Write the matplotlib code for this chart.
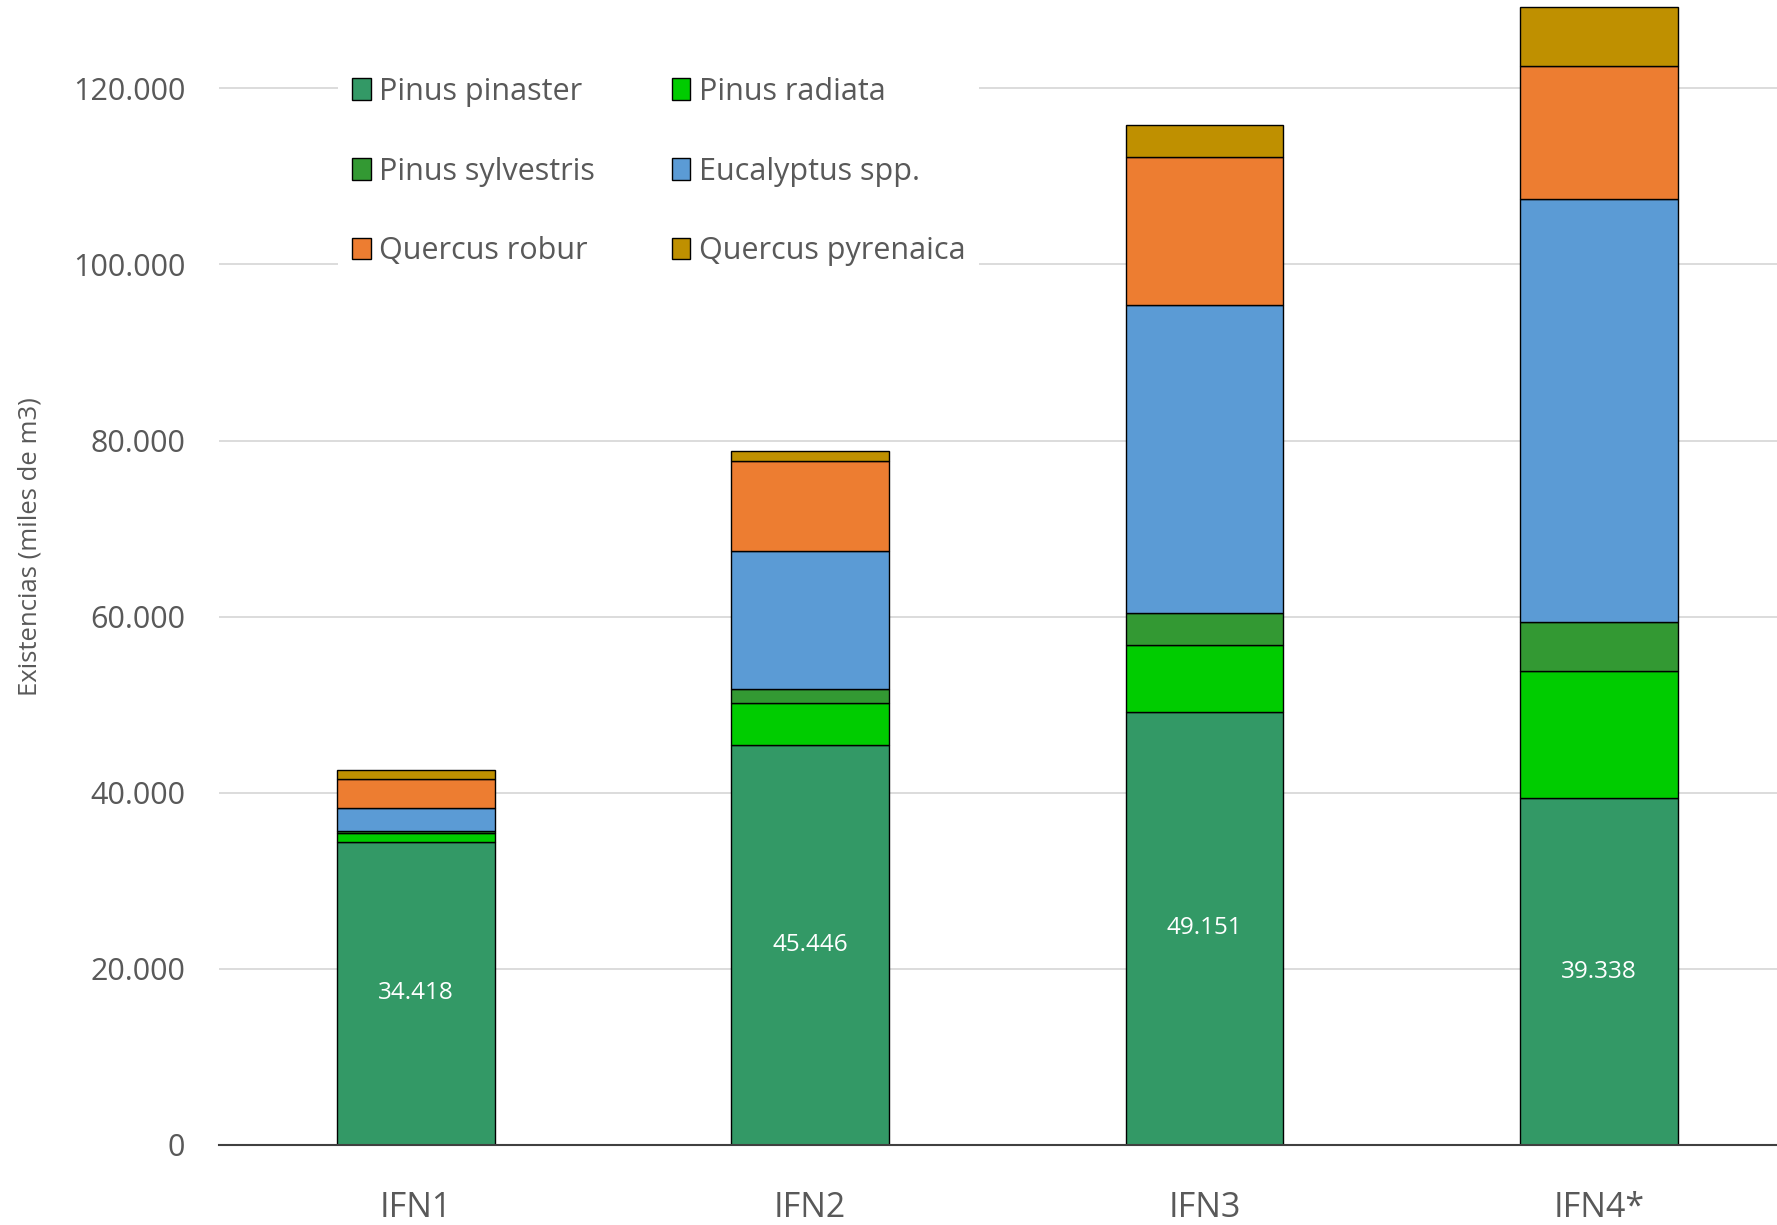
import matplotlib
matplotlib.use("Agg")
import matplotlib.pyplot as plt
import numpy as np

categories = ["IFN1", "IFN2", "IFN3", "IFN4*"]
species = ["Pinus pinaster", "Pinus radiata", "Pinus sylvestris",
           "Eucalyptus spp.", "Quercus robur", "Quercus pyrenaica"]
pinus_pinaster = [34418, 45446, 49151, 39338]
pinus_radiata = [954, 4699, 7583, 14432]
pinus_sylvestris = [261, 1659, 3681, 5577]
eucalyptus = [2647, 15677, 34956, 48128]
quercus_robur = [3226, 10156, 16894, 15103]
quercus_pyrenaica = [1057, 1204, 3588, 6634]
colors = ["#339966", "#00CC00", "#339933", "#5B9BD5", "#ED7D31", "#BF9000"]
yticks = [0, 20000, 40000, 60000, 80000, 100000, 120000]

series = [pinus_pinaster, pinus_radiata, pinus_sylvestris,
          eucalyptus, quercus_robur, quercus_pyrenaica]

FONT = "Open Sans"
GREY = "#595959"

fig = plt.figure(figsize=(17.77, 12.25), dpi=100)
ax = fig.add_axes([218.7 / 1777, 80.3 / 1225, (1796 - 218.7) / 1777, 1144.3 / 1225])

x = np.arange(len(categories))
bottom = np.zeros(len(categories))
containers = []
for vals, col, name in zip(series, colors, species):
    c = ax.bar(x, vals, 0.4, bottom=bottom, color=col, edgecolor="black",
               linewidth=1.0, label=name, zorder=3)
    containers.append(c)
    bottom += np.array(vals)

ax.bar_label(containers[0], labels=[f"{v:,}".replace(",", ".") for v in pinus_pinaster],
             label_type="center", color="white", fontsize=17.5, family=FONT)

ax.set_xlim(-0.5, len(categories) - 0.5)
ax.set_ylim(0, 130000)
ax.set_yticks(yticks)
ax.set_yticklabels([f"{v:,}".replace(",", ".") for v in yticks])
ax.set_xticks(x)
ax.set_xticklabels(categories)
ax.yaxis.grid(True, color="#D9D9D9", linewidth=1.3, zorder=0)
ax.set_axisbelow(True)
for s in ["top", "right", "left"]:
    ax.spines[s].set_visible(False)
ax.spines["bottom"].set_color("#404040")
ax.spines["bottom"].set_linewidth(1.5)
ax.spines["bottom"].set_zorder(4)
ax.tick_params(axis="y", length=0, pad=24, labelsize=22, labelcolor=GREY)
ax.tick_params(axis="x", length=0, pad=33, labelsize=24.5, labelcolor=GREY)
for lab in ax.get_xticklabels() + ax.get_yticklabels():
    lab.set_family(FONT)

fig.text(30 / 1777, 0.554, "Existencias (miles de m3)", rotation=90, ha="center",
         va="center", fontsize=18.5, color=GREY, family=FONT)

handles, labels = ax.get_legend_handles_labels()
order = [0, 2, 4, 1, 3, 5]
leg = ax.legend([handles[i] for i in order], [labels[i] for i in order], ncol=2,
                loc="upper left", bbox_to_anchor=(338 / 1777, 1 - 63 / 1225),
                bbox_transform=fig.transFigure, frameon=True, fancybox=False,
                edgecolor="none", facecolor="white", framealpha=1,
                prop={"family": FONT, "size": 22}, handlelength=0.62,
                handleheight=0.7, handletextpad=0.28, columnspacing=2.5,
                labelspacing=1.63, borderpad=0.45, borderaxespad=0)
for t in leg.get_texts():
    t.set_color(GREY)
leg.set_zorder(5)

fig.savefig("out.png", dpi=100)
